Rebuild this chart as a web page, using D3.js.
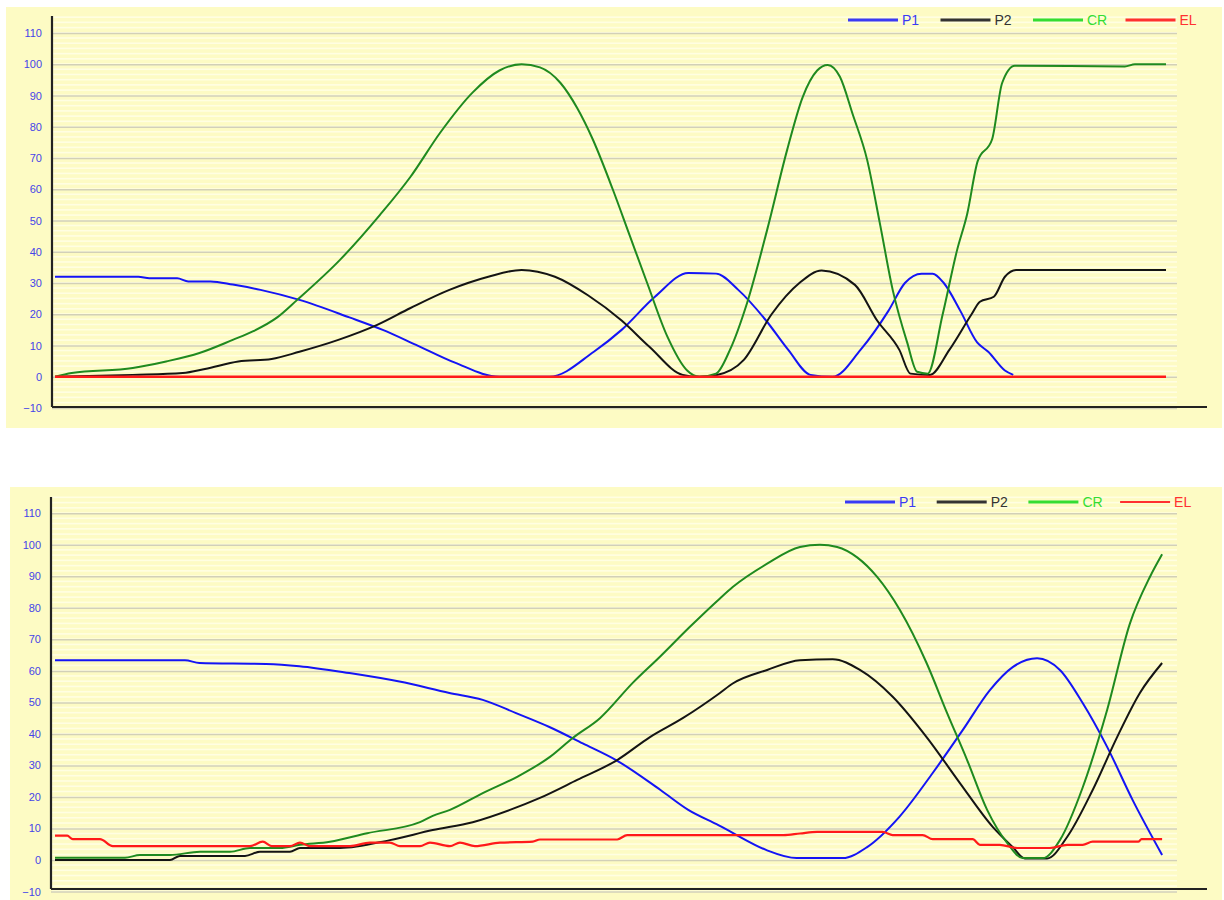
<!DOCTYPE html>
<html>
<head>
<meta charset="utf-8">
<script src="https://d3js.org/d3.v7.min.js"></script>
<style>
  body { margin: 0; background: #fff; }
  svg { display: block; font-family: "Liberation Sans", Arial, sans-serif; }
</style>
</head>
<body>
<svg width="1224" height="900"></svg>
<script>
// series names + colours
const seriesNames = ["P1", "P2", "CR", "EL"];
const lineColors = ["#1414f5", "#141414", "#1f8a1f", "#ff1a1a"];
const legendColors = ["#3a3af5", "#333333", "#33dd33", "#ff3030"];
const yTicks = [-10, 0, 10, 20, 30, 40, 50, 60, 70, 80, 90, 100, 110];

// top chart, [step, value]
const topP1 = [[0,32],[15,32],[17,31.5],[22,31.5],[24,30.5],[28,30.5],[32,29.5],[37,27.8],[44,24.6],[53,19],[59,15],[65,10.2],[72,4.5],[80,0],[89,0],[97,8],[102,15],[108,25.6],[114,33.2],[119,33],[123,27.8],[128,18],[132,8.6],[136,0.6],[140,0],[145,8.6],[150,21],[153,30],[156,33],[158,33],[160,30],[163,21],[166,11],[168,8],[171,2],[172.5,0.6]];
const topP2 = [[0,0],[14,0.6],[23,1.2],[27,2.5],[33,4.9],[39,5.7],[44,8],[51,11.8],[58,16.6],[64,22],[71,27.8],[78,32],[84,34.2],[90,32],[96,26],[102,18],[107,9.6],[113,0.6],[116,0],[119,0.5],[124,5.4],[129,20],[134,30],[138,34],[144,29.4],[148,18],[152,8.6],[154,1],[157.5,0.6],[161,8.6],[165,20],[166.5,24],[169,25.6],[171,32],[173,34.2],[200,34.2]];
const topCR = [[0,0],[3,1.2],[14,2.8],[20,4.9],[26,7.6],[32,11.8],[35.6,14.5],[40,19],[43.6,24.6],[51.3,37.4],[58.5,51.8],[64,64],[69.3,78],[75.2,91],[80,98],[84,100],[87.3,99],[91,94],[94,86],[96.8,76],[100.4,60],[103.5,45],[106.6,30],[110.2,13],[113.8,2],[116,0],[119,1],[121.5,8.6],[124.6,23.7],[128.2,47],[131.8,72.6],[134.6,89.5],[137.2,98],[139.1,99.8],[141.3,96],[143.6,84],[146.2,69.4],[148.5,49],[150.8,27.8],[153.4,11],[155.2,1.6],[157.1,1],[159.8,20],[162.4,40.6],[164.2,52],[166.1,69],[168.7,76],[170.5,94],[172.8,99.5],[192.6,99.3],[194.4,100],[200,100]];
const topEL = [[0,0],[50,0],[100,0],[150,0],[200,0]];

// bottom chart, [step, value]
const botP1 = [[0,63.4],[23.4,63.4],[26,62.5],[38,62.2],[44,61.5],[53,59.3],[62,56.6],[71,53],[77,50.8],[83,46.6],[89,42.2],[95,37],[101,31.7],[109,22.2],[114,15.9],[119.5,11],[122,8.6],[128,3.2],[133.5,0.6],[141.8,0.6],[146.2,4.1],[152,13.7],[158,27.6],[163.4,41.2],[168.3,53.9],[172.4,61.2],[176.8,64],[180.9,60.3],[185,49.8],[189.4,35.9],[194,19],[199.3,1.6]];
const botP2 = [[0,0],[20.7,0],[22.5,1.3],[34.2,1.3],[36.9,2.6],[42.3,2.6],[44.1,3.8],[51.3,3.8],[60.3,6.3],[68,9.5],[75.2,12],[81.9,15.9],[87.3,19.7],[94,25.4],[101.2,31.7],[107.1,39],[113,45],[119.7,53],[122,56],[128.2,60.3],[134.1,63.4],[140,63.7],[144.9,60.3],[150.8,51.8],[156.9,39],[162.9,24.4],[168.8,10.5],[172.4,4.1],[174.6,0.5],[178.6,0.5],[182.2,7.3],[186.8,22.2],[191.2,39],[195.3,53],[199.3,62.5]];
const botCR = [[0,0.7],[12.6,0.7],[15.3,1.6],[20.7,1.6],[26.1,2.6],[31.5,2.6],[35.1,3.8],[40.5,3.8],[44.1,4.8],[49.5,5.8],[56.2,8.5],[65.7,12],[68,14],[71.1,15.9],[77,21.2],[83.2,26.4],[89.1,32.7],[93.2,38.7],[98.1,45],[104,56.2],[108.9,64.5],[114.3,74],[119.7,83],[122,86.6],[128.2,94],[134.1,99.3],[137.7,100],[140.8,99.3],[144.4,96],[148,89.8],[152.1,79.3],[156.9,62.5],[160.6,46.6],[164.2,31.7],[167.8,15.9],[171.4,5.4],[174.2,0.6],[177.8,0.6],[180.9,6.3],[185,23],[189.4,47.6],[193.5,75],[197.1,89.8],[199.3,97]];
const botEL = [[0,7.7],[2.2,7.7],[3.2,6.6],[8.1,6.6],[10.4,4.4],[35.1,4.4],[37.4,5.8],[39,4.4],[42.3,4.4],[44.1,5.5],[45.9,4.4],[53.1,4.4],[56.7,5.5],[60.3,5.5],[62.1,4.4],[65.7,4.4],[67.5,5.5],[71.1,4.4],[72.9,5.5],[75.6,4.4],[80.1,5.5],[86,5.8],[87.3,6.5],[101.2,6.5],[103,7.9],[131.1,7.9],[134.1,8.4],[137.2,8.9],[149,8.9],[150.8,7.9],[156.2,7.9],[158,6.6],[165.2,6.6],[166.5,4.8],[170.1,4.8],[173.2,3.8],[179.1,3.8],[182.2,4.8],[185,4.8],[186.8,5.8],[195,5.8],[195.6,6.6],[199.3,6.6]];

const svg = d3.select('svg');

function drawPanel(p, series) {
  const g = svg.append('g');

  // yellow background
  g.append('rect')
    .attr('x', p.bx).attr('y', p.by)
    .attr('width', p.bw).attr('height', p.bh)
    .attr('fill', '#fdfbc4');

  const x = d3.scaleLinear().domain([0, 200]).range([55, 1166]);
  const y = d3.scaleLinear().domain([-10, 110]).range(p.yRange);

  // faint stripes
  const stripes = d3.range(-10, 116, 10 / 6);
  g.selectAll('.stripe').data(stripes).enter().append('rect')
    .attr('x', p.ax + 1).attr('width', 1177 - p.ax - 1)
    .attr('y', d => y(d) - 1).attr('height', 1.6)
    .attr('fill', '#fffee2');

  // grid lines + tick labels
  const axis = d3.axisLeft(y).tickValues(yTicks).tickSize(-(1177 - p.ax)).tickPadding(10);
  const ag = g.append('g').attr('transform', `translate(${p.ax},0)`).call(axis);
  ag.select('.domain').remove();
  ag.selectAll('.tick line').attr('stroke', '#d2d0b8').attr('stroke-width', 1.5);
  ag.selectAll('.tick text')
    .attr('fill', '#4545e8').attr('font-size', 11);

  // lines
  const line = d3.line().curve(d3.curveMonotoneX).x(d => x(d[0])).y(d => y(d[1]));
  series.forEach((s, i) => {
    g.append('path')
      .datum(s)
      .attr('fill', 'none')
      .attr('stroke', lineColors[i])
      .attr('stroke-width', i == 3 ? p.elWidth : 2)
      .attr('stroke-linejoin', 'round')
      .attr('d', line);
  });

  // axes lines
  g.append('line')
    .attr('x1', p.ax).attr('x2', p.ax)
    .attr('y1', p.axTop).attr('y2', p.axBottom)
    .attr('stroke', '#222').attr('stroke-width', 2.2);
  g.append('line')
    .attr('x1', p.ax).attr('x2', 1207)
    .attr('y1', p.axBottom).attr('y2', p.axBottom)
    .attr('stroke', '#222').attr('stroke-width', 2.2);

  // legend
  seriesNames.forEach((n, i) => {
    const lx = p.legX + i * p.legStep;
    g.append('line')
      .attr('x1', lx).attr('x2', lx + 50)
      .attr('y1', p.legY).attr('y2', p.legY)
      .attr('stroke', legendColors[i]).attr('stroke-width', i == 3 ? p.elLeg : 3);
    g.append('text')
      .attr('x', lx + 54).attr('y', p.legY)
      .attr('dy', '0.36em')
      .attr('font-size', 14)
      .attr('fill', legendColors[i])
      .text(n);
  });
}

drawPanel({bx: 6, by: 7, bw: 1216, bh: 421, ax: 52, axTop: 16, axBottom: 407,
  yRange: [408, 33], legX: 848, legStep: 92.5, legY: 20, elWidth: 2.5, elLeg: 3},
  [topP1, topP2, topCR, topEL]);

drawPanel({bx: 10, by: 487, bw: 1212, bh: 413, ax: 51, axTop: 497, axBottom: 889,
  yRange: [891.5, 513.3], legX: 845, legStep: 91.7, legY: 502, elWidth: 2.2, elLeg: 2},
  [botP1, botP2, botCR, botEL]);
</script>
</body>
</html>
